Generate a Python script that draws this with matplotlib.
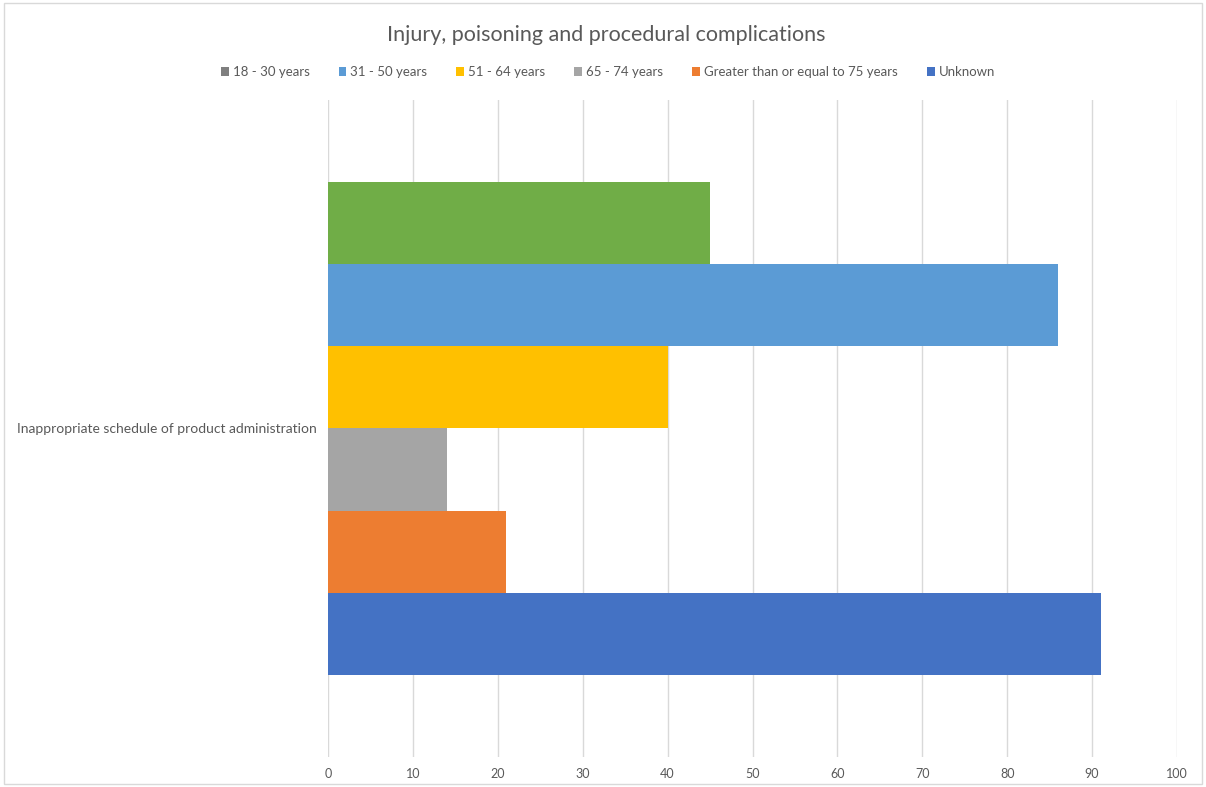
import matplotlib.pyplot as plt
from matplotlib.patches import Patch, Rectangle

# data
category = "Inappropriate schedule of product administration"
groups = ["18 - 30 years", "31 - 50 years", "51 - 64 years", "65 - 74 years",
          "Greater than or equal to 75 years", "Unknown"]
values = [45, 86, 40, 14, 21, 91]
bar_colors = ["#70ad47", "#5b9bd5", "#ffc000", "#a5a5a5", "#ed7d31", "#4472c4"]
legend_colors = ["#7f7f7f", "#5b9bd5", "#ffc000", "#a5a5a5", "#ed7d31", "#4472c4"]
xticks = list(range(0, 101, 10))

plt.rcParams['font.family'] = ['Lato', 'DejaVu Sans']

fig = plt.figure(figsize=(12.06, 7.87), dpi=100)
ax = fig.add_axes([328 / 1206, 1 - 757 / 787, (1177 - 328) / 1206, (757 - 100) / 787])

n = len(values)
h = 0.75 / n
for i, (v, c) in enumerate(zip(values, bar_colors)):
    y = 0.375 - h * (i + 0.5)
    ax.barh(y, v, height=h, color=c, zorder=3)

ax.set_xlim(0, 100)
ax.set_ylim(-0.5, 0.5)
ax.set_xticks(xticks)
ax.set_xticklabels([str(t) for t in xticks], color="#595959", fontsize=9)
ax.set_yticks([0])
ax.set_yticklabels([category], color="#595959", fontsize=10)
ax.tick_params(length=0, pad=8)
ax.grid(axis="x", color="#d9d9d9", linewidth=1, zorder=0)
for s in ax.spines.values():
    s.set_visible(False)

fig.text(606 / 1206, 1 - 35 / 787, "Injury, poisoning and procedural complications",
         ha="center", va="center", fontsize=15.5, color="#595959")

handles = [Patch(facecolor=c, edgecolor="none") for c in legend_colors]
fig.legend(handles, groups, loc="center", bbox_to_anchor=(608 / 1206, 1 - 72 / 787),
           ncol=6, frameon=False, fontsize=9.5, labelcolor="#595959",
           handlelength=0.6, handleheight=0.6, handletextpad=0.3, columnspacing=2.2)

# chart border
fig.patches.append(Rectangle((0.003, 0.004), 0.994, 0.992, transform=fig.transFigure,
                             fill=False, edgecolor="#d9d9d9", linewidth=1))

fig.savefig("out.png", dpi=100)
